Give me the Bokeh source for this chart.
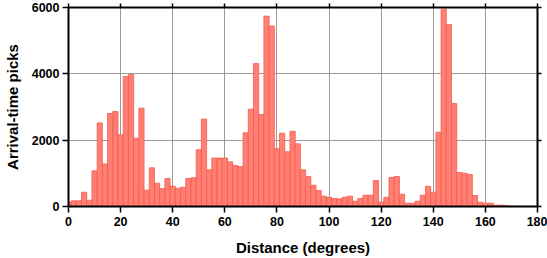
from bokeh.plotting import figure
from bokeh.models import LinearAxis, FixedTicker, Range1d, CustomJSTickFormatter
from bokeh.embed import file_html
from bokeh.resources import INLINE

# Bin centres (degrees) and arrival-time pick counts per 2-degree bin
centers = list(range(0, 182, 2))
counts = [
    130, 170, 170, 430, 190, 1075, 2520, 1285, 2805, 2865,      # 0-18
    2160, 3920, 3980, 2060, 2965, 490, 1165, 700, 540, 845,     # 20-38
    610, 550, 580, 845, 865, 1710, 2635, 1105, 1460, 1460,      # 40-58
    1460, 1350, 1235, 1205, 2220, 2935, 4310, 2775, 5740, 5440, # 60-78
    1740, 2210, 1650, 2270, 1890, 1105, 905, 640, 480, 310,     # 80-98
    280, 240, 230, 280, 310, 160, 240, 340, 340, 785,           # 100-118
    130, 280, 875, 905, 370, 100, 100, 160, 340, 610,           # 120-138
    430, 2240, 5950, 5490, 3105, 1025, 1005, 965, 330, 130,     # 140-158
    100, 100, 40, 40, 30, 10, 5, 3, 2, 2,                       # 160-178
    2,                                                          # 180
]
x_ticks = [0, 20, 40, 60, 80, 100, 120, 140, 160, 180]
y_ticks = [0, 2000, 4000, 6000]
x_title = "Distance (degrees)"
y_title = "Arrival-time picks"

FONT = "Liberation Sans"

p = figure(width=547, height=258, output_backend="svg", toolbar_location=None,
           x_range=Range1d(0, 180), y_range=Range1d(0, 6000),
           min_border_left=66, min_border_right=10, min_border_top=7,
           min_border_bottom=51, x_axis_label=x_title, y_axis_label=y_title)

p.vbar(x=centers, top=counts, width=2, bottom=0,
       fill_color="#FF8072", line_color="#F45A50", line_width=0.8)

p.outline_line_color = None
p.background_fill_color = "white"

for g, t in ((p.xgrid, x_ticks), (p.ygrid, y_ticks)):
    g.ticker = FixedTicker(ticks=t)
    g.grid_line_color = "#9a9a9a"
    g.grid_line_width = 1

for ax, t in ((p.xaxis[0], x_ticks), (p.yaxis[0], y_ticks)):
    ax.ticker = FixedTicker(ticks=t)
    ax.minor_tick_line_color = None
    ax.axis_line_width = 2
    ax.axis_line_color = "black"
    ax.major_tick_line_width = 1.5
    ax.major_tick_out = 6
    ax.major_tick_in = 0
    ax.major_label_text_font = FONT
    ax.major_label_text_font_style = "bold"
    ax.major_label_text_font_size = "12.5px"
    ax.major_label_text_color = "black"
    ax.axis_label_text_font = FONT
    ax.axis_label_text_font_style = "bold"
    ax.axis_label_text_font_size = "15px"
    ax.axis_label_text_color = "black"

p.yaxis[0].major_label_standoff = 3
p.yaxis[0].axis_label_standoff = 8
p.xaxis[0].major_label_standoff = 4
p.xaxis[0].axis_label_standoff = 10

for loc, t in (("right", y_ticks), ("above", x_ticks)):
    ax = LinearAxis(ticker=FixedTicker(ticks=t),
                    formatter=CustomJSTickFormatter(code="return ''"))
    ax.minor_tick_line_color = None
    ax.axis_line_width = 2
    ax.axis_line_color = "black"
    ax.major_tick_line_width = 1.5
    ax.major_tick_out = 4
    ax.major_tick_in = 0
    ax.major_label_text_color = None
    ax.major_label_text_font_size = "1px"
    ax.major_label_standoff = 0
    p.add_layout(ax, loc)

open("out.html", "w").write(file_html(p, INLINE))
